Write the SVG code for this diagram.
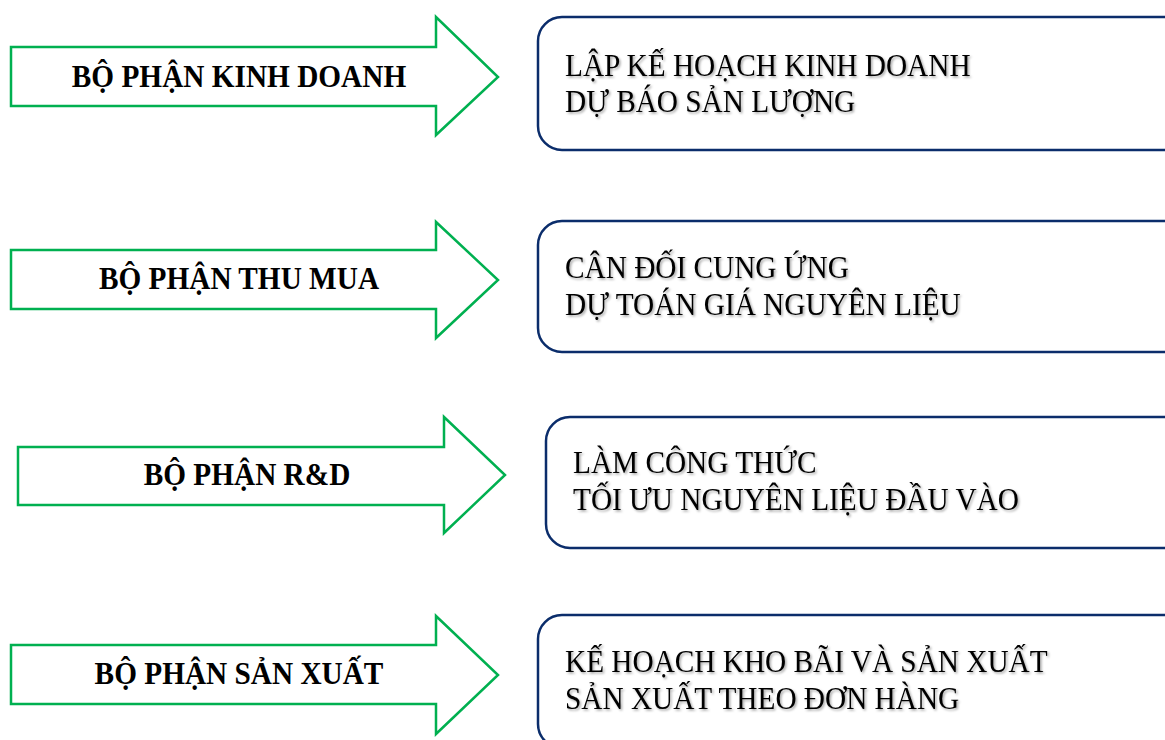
<svg xmlns="http://www.w3.org/2000/svg" width="1165" height="740" viewBox="0 0 1165 740">
<defs>
<style>
.arrow{fill:#ffffff;stroke:#00B050;stroke-width:2.5;stroke-linejoin:miter}
.box{fill:#ffffff;stroke:#0B2D6B;stroke-width:2.5}
.lbl{font-family:"Liberation Serif","Times New Roman",serif;font-weight:bold;font-size:29.3px;fill:#000;text-anchor:middle}
.txt{font-family:"Liberation Serif","Times New Roman",serif;font-size:29.3px;fill:#000;filter:url(#sh)}
</style>
<filter id="sh" x="-5%" y="-30%" width="110%" height="160%">
<feDropShadow dx="1.5" dy="1.5" stdDeviation="1" flood-color="#000" flood-opacity="0.35"/>
</filter>
</defs>
<g id="connectors"></g>
<g id="arrow1"><polygon class="arrow" points="11,47 436,47 436,17 498,77 436,135 436,106 11,106"/><text class="lbl" transform="translate(239,86.5) scale(1,1.1)">BỘ PHẬN KINH DOANH</text></g>
<g id="box1"><rect class="box" x="538" y="17" width="650" height="133" rx="24"/><text class="txt" transform="translate(565,76) scale(1,1.09)">LẬP KẾ HOẠCH KINH DOANH</text><text class="txt" transform="translate(565,112) scale(1,1.09)">DỰ BÁO SẢN LƯỢNG</text></g>
<g id="arrow2"><polygon class="arrow" points="11,250 436,250 436,222 498,280 436,338 436,309 11,309"/><text class="lbl" transform="translate(239,289) scale(1,1.1)">BỘ PHẬN THU MUA</text></g>
<g id="box2"><rect class="box" x="538" y="221" width="650" height="131" rx="24"/><text class="txt" transform="translate(565,278) scale(1,1.09)">CÂN ĐỐI CUNG ỨNG</text><text class="txt" transform="translate(565,315) scale(1,1.09)">DỰ TOÁN GIÁ NGUYÊN LIỆU</text></g>
<g id="arrow3"><polygon class="arrow" points="18,447 444,447 444,417 505,475 444,533 444,505 18,505"/><text class="lbl" transform="translate(247,485) scale(1,1.1)">BỘ PHẬN R&amp;D</text></g>
<g id="box3"><rect class="box" x="546" y="417" width="650" height="131" rx="24"/><text class="txt" transform="translate(573,473) scale(1,1.09)">LÀM CÔNG THỨC</text><text class="txt" transform="translate(573,510) scale(1,1.09)">TỐI ƯU NGUYÊN LIỆU ĐẦU VÀO</text></g>
<g id="arrow4"><polygon class="arrow" points="11,645 436,645 436,616 498,675 436,734 436,704 11,704"/><text class="lbl" transform="translate(239,684) scale(1,1.1)">BỘ PHẬN SẢN XUẤT</text></g>
<g id="box4"><rect class="box" x="538" y="615" width="650" height="133" rx="24"/><text class="txt" transform="translate(565,672) scale(1,1.09)">KẾ HOẠCH KHO BÃI VÀ SẢN XUẤT</text><text class="txt" transform="translate(565,709) scale(1,1.09)">SẢN XUẤT THEO ĐƠN HÀNG</text></g>
</svg>
